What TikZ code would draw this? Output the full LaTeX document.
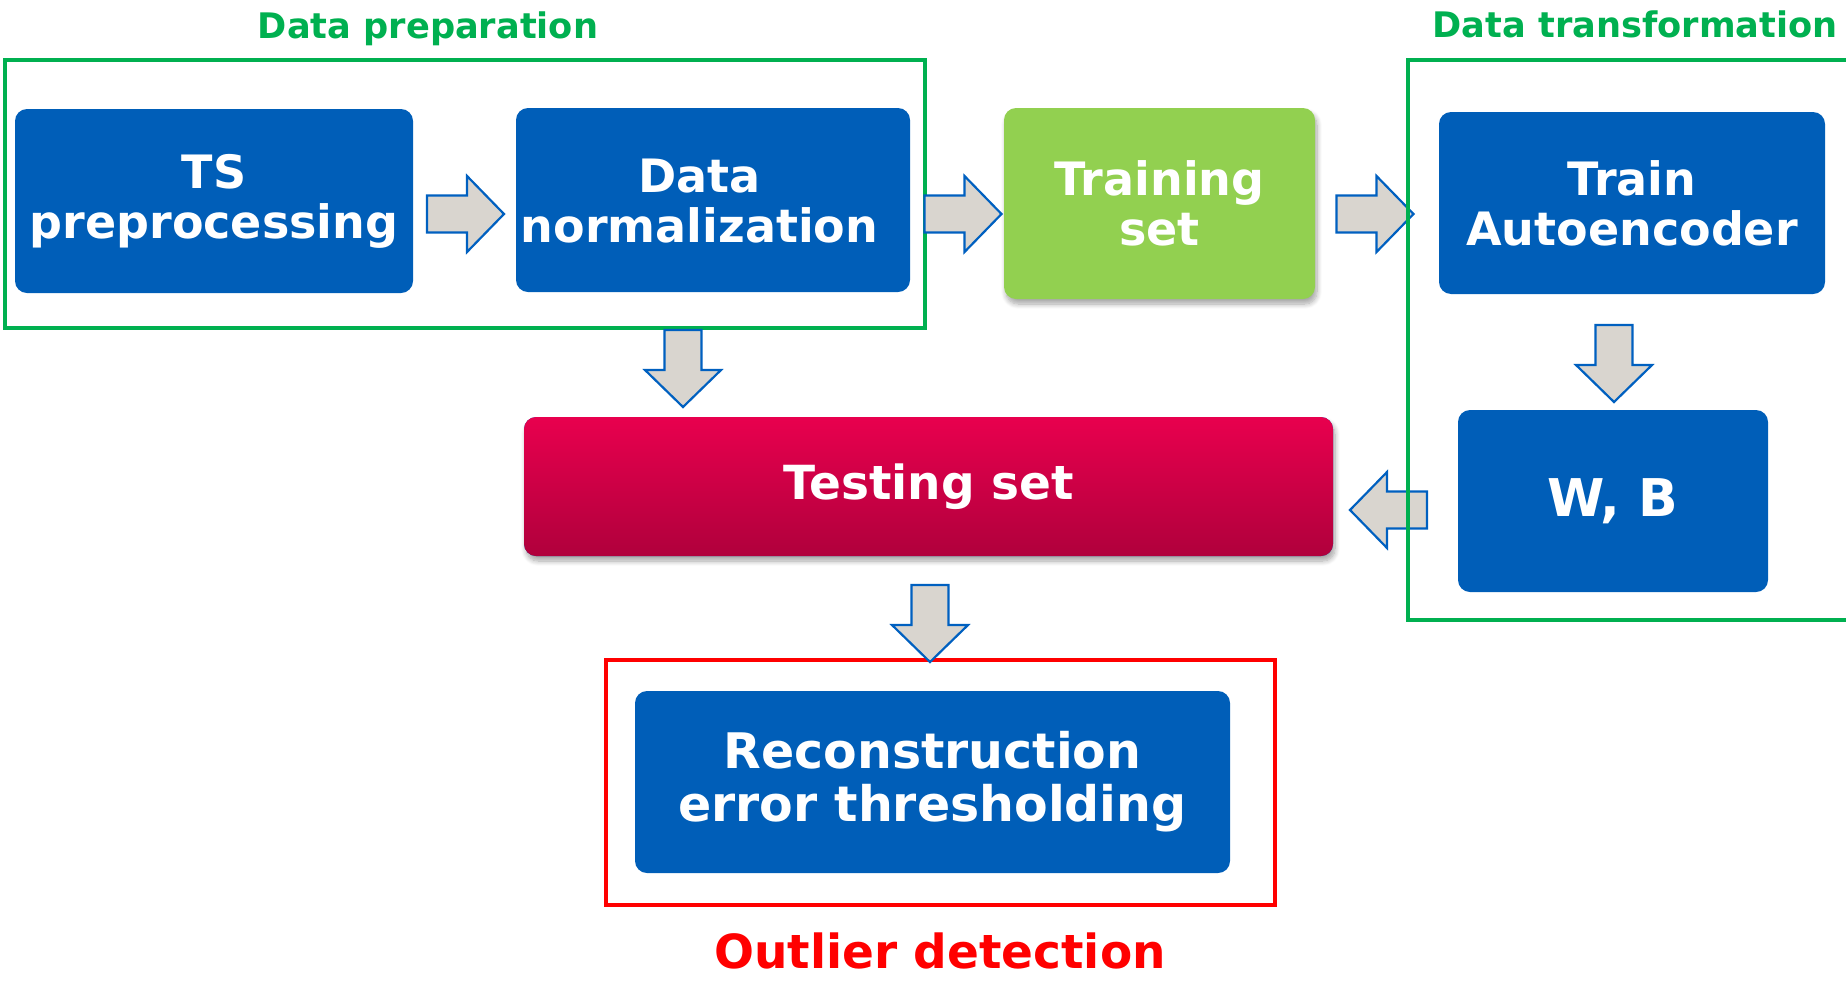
\documentclass[tikz,border=0pt]{standalone}
\usepackage{fontspec}
\setmainfont{DejaVu Sans}
\usetikzlibrary{shadows.blur,calc}

\definecolor{boxblue}{RGB}{0,94,184}
\definecolor{trgreen}{RGB}{146,208,80}
\definecolor{framegreen}{RGB}{0,176,80}
\definecolor{testtop}{RGB}{232,0,78}
\definecolor{testbot}{RGB}{176,0,60}
\definecolor{arrowfill}{RGB}{217,213,207}
\definecolor{arrowline}{RGB}{0,96,192}

\tikzset{
  stagebox/.style={rounded corners=6pt, fill=boxblue, text=white, align=center,
    font=\bfseries\fontsize{23}{25}\selectfont, inner sep=0pt},
  groupframe/.style={line width=2pt},
  heading/.style={font=\bfseries\fontsize{17.6}{20}\selectfont, inner sep=0pt},
  softshadow/.style={blur shadow={shadow xshift=1pt, shadow yshift=-2.5pt,
    shadow blur radius=2.5pt, shadow blur steps=8, shadow opacity=35}},
  blockarrow/.pic={
    \draw[fill=arrowfill, draw=arrowline, line width=1.1pt, line join=miter]
      (-38.5,-18.5) -- (1.5,-18.5) -- (1.5,-38) -- (38.5,0) -- (1.5,38)
      -- (1.5,18.5) -- (-38.5,18.5) -- cycle;}
}

\begin{document}
\begin{tikzpicture}[x=0.5pt,y=-0.5pt]
\useasboundingbox (0,0) rectangle (1846,980);

% frames drawn beneath the flow
\draw[groupframe, draw=framegreen] (5,60) rectangle (925,328);
\draw[groupframe, draw=red] (606,660) rectangle (1275,905);

% group headings
\node[heading, text=framegreen] (prephead) at (428,29) {Data preparation};
\node[heading, text=framegreen] (transhead) at (1635,24) {Data transformation};
\node[font=\bfseries\fontsize{23.5}{26}\selectfont, text=red, anchor=base, inner sep=0pt] (outhead) at (940,968) {Outlier detection};

% stages
\node[stagebox, minimum width=199pt, minimum height=92pt] (ts) at (214,201) {TS\\preprocessing};
\node[stagebox, minimum width=197pt, minimum height=92pt] (dn) at (713,200) {};
\node[text=white, align=center, font=\bfseries\fontsize{23}{25}\selectfont, inner sep=0pt] (dntext) at (699.5,201) {Data\\normalization};
\node[stagebox, fill=trgreen, softshadow, minimum width=155.5pt, minimum height=95.5pt] (tr) at (1159.5,203.5) {Training\\set};
\node[stagebox, minimum width=193pt, minimum height=91pt] (ta) at (1632,203) {Train\\Autoencoder};
\node[stagebox, minimum width=155pt, minimum height=91pt, font=\bfseries\fontsize{26}{28}\selectfont] (wb) at (1613,501) {W, B};
\node[stagebox, top color=testtop, bottom color=testbot, softshadow, minimum width=404.5pt, minimum height=69.5pt, font=\bfseries\fontsize{23.5}{26}\selectfont] (test) at (928.5,486.5) {Testing set};
\node[stagebox, minimum width=297.5pt, minimum height=91pt, font=\bfseries\fontsize{24.5}{26.5}\selectfont] (rec) at (932.5,782) {Reconstruction\\error thresholding};

% flow arrows between stages
\pic (ts-dn) at (465.5,214) {blockarrow};
\pic (dn-tr) at (963,214) {blockarrow};
\pic (tr-ta) at (1375,214) {blockarrow};
\pic[rotate=-90] (dn-test) at (683,368.5) {blockarrow};
\pic[rotate=-90] (ta-wb) at (1614,363.5) {blockarrow};
\pic[rotate=180] (wb-test) at (1388.5,510) {blockarrow};
\pic[rotate=-90] (test-rec) at (930,623.5) {blockarrow};

% transformation frame, open to the right, over the arrows
\draw[groupframe, draw=framegreen] (1860,60) -- (1408,60) -- (1408,620) -- (1860,620);
\end{tikzpicture}
\end{document}
